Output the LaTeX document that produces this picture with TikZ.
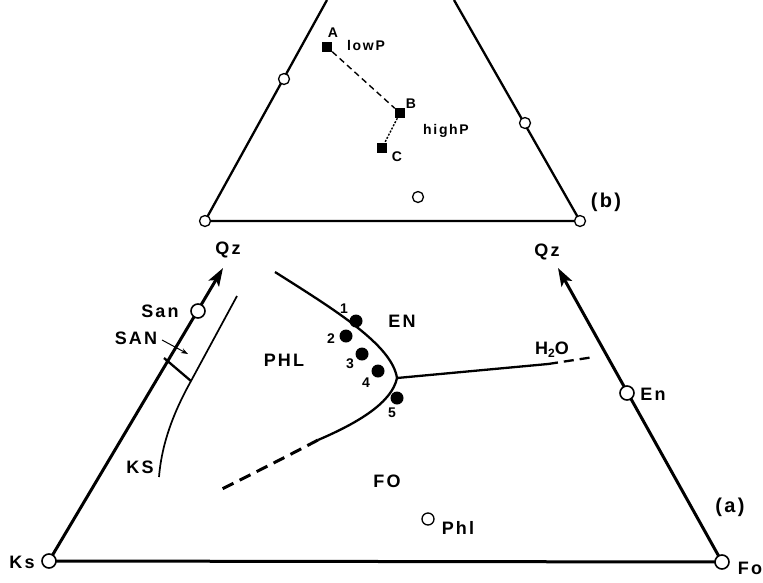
\documentclass[tikz,border=0pt]{standalone}
\usepackage{fontspec}
\setmainfont{Liberation Sans}[LetterSpace=12]
\usepackage{tikz}
\usetikzlibrary{arrows.meta}

\tikzset{
  abierto/.style={circle,draw,fill=white,inner sep=0pt,minimum size=14pt,line width=1.6pt},
  chico/.style={circle,draw,fill=white,inner sep=0pt,minimum size=11pt,line width=1.3pt},
  lleno/.style={circle,fill=black,inner sep=0pt,minimum size=13pt},
  cuadro/.style={rectangle,fill=black,inner sep=0pt,minimum size=10pt},
  etiq/.style={font=\bfseries\fontsize{18}{21}\selectfont,inner sep=0pt},
  menor/.style={font=\bfseries\fontsize{14}{16}\selectfont,inner sep=0pt},
}

\begin{document}
\begin{tikzpicture}[x=1pt,y=-1pt]
\useasboundingbox (0,0) rectangle (763,582);

% triangulo (b)
\coordinate (bI) at (205,221);
\coordinate (bD) at (580,221);
\coordinate (bIs) at (327,0);
\coordinate (bDs) at (454,0);
\draw[line width=2.3pt] (bIs) -- (bI) -- (bD) -- (bDs);
\node[chico] (oI) at (bI) {};
\node[chico] (oD) at (bD) {};
\node[chico] (oIs) at (284,79) {};
\node[chico] (oDs) at (525,123) {};
\node[chico] (oC) at (418,197) {};

\node[cuadro] (A) at (327,47) {};
\node[cuadro] (B) at (400,113) {};
\node[cuadro] (C) at (382,148) {};
\draw[line width=1.4pt,dash pattern=on 6pt off 4pt] (A) -- (B);
\draw[line width=1.4pt,dash pattern=on 2pt off 1.5pt] (B) -- (C);
\node[menor] (lA) at (333,33) {A};
\node[menor] (lB) at (411,104) {B};
\node[menor] (lC) at (397,157) {C};
\node[menor] (lowP) at (366,45) {lowP};
\node[menor] (highP) at (446,131) {highP};
\node[etiq,font=\bfseries\fontsize{20}{23}\selectfont] (lb) at (606,202) {(b)};

% triangulo (a)
\coordinate (Ks) at (49,561);
\coordinate (Fo) at (722,562);
\coordinate (QzI) at (223,268);
\coordinate (QzD) at (558,268);
\draw[line width=3pt] (Ks) -- (Fo);
\draw[line width=3pt,-{Stealth[length=18pt,width=12pt,inset=4pt]}] (Ks) -- (QzI);
\draw[line width=3pt,-{Stealth[length=18pt,width=12pt,inset=4pt]}] (Fo) -- (QzD);

% campo KS
\coordinate (t1) at (164,358);
\coordinate (t2) at (191,381);
\draw[line width=1.7pt] (237,296) -- (t2) .. controls (176,408) and (162,440) .. (159,477);
\draw[line width=2.3pt] (t1) -- (t2);
\draw[line width=1pt,-{Stealth[length=7pt,width=5pt]}] (162,340) -- (188,354);

% curvas de la figura
\coordinate (tp) at (397,378);
\draw[line width=2.3pt] (275,272) .. controls (335,310) and (392,345) .. (tp)
  .. controls (392,402) and (360,422) .. (318,440);
\draw[line width=3pt,dash pattern=on 12pt off 7pt] (318,440) .. controls (280,460) and (250,475) .. (220,490);
\draw[line width=2.3pt] (tp) -- (548,364);
\draw[line width=2.3pt,dash pattern=on 10pt off 6pt] (548,364) -- (594,357);

% puntos
\node[abierto] (nKs) at (Ks) {};
\node[abierto] (nFo) at (Fo) {};
\node[abierto] (nSan) at (198,311) {};
\node[abierto] (nEn) at (627,393) {};
\node[chico,minimum size=12pt] (nPhl) at (428,519) {};
\node[lleno] (p1) at (356,321) {};
\node[lleno] (p2) at (346,336) {};
\node[lleno] (p3) at (362,354) {};
\node[lleno] (p4) at (378,371) {};
\node[lleno] (p5) at (397,398) {};
\node[menor] (l1) at (344,309) {1};
\node[menor] (l2) at (331,339) {2};
\node[menor] (l3) at (350,364) {3};
\node[menor] (l4) at (366,383) {4};
\node[menor] (l5) at (392,413) {5};

% rotulos
\node[etiq] (lQzI) at (228,250) {Qz};
\node[etiq] (lQzD) at (547,252) {Qz};
\node[etiq] (lSan) at (160,311) {San};
\node[etiq] (lSAN) at (136,338) {SAN};
\node[etiq] (lKS) at (140,467) {KS};
\node[etiq] (lPHL) at (284,360) {PHL};
\node[etiq] (lEN) at (402,321) {EN};
\node[etiq] (lH) at (552,350) {H\raisebox{-3pt}{\fontsize{12}{13}\selectfont 2}O};
\node[etiq] (lFO) at (387,481) {FO};
\node[etiq] (lPhl) at (458,528) {Phl};
\node[etiq] (lEn) at (653,394) {En};
\node[etiq,font=\bfseries\fontsize{20}{23}\selectfont] (la) at (730,507) {(a)};
\node[etiq] (lFo) at (750,568) {Fo};
\node[etiq] (lKs) at (22,562) {Ks};

\end{tikzpicture}
\end{document}
